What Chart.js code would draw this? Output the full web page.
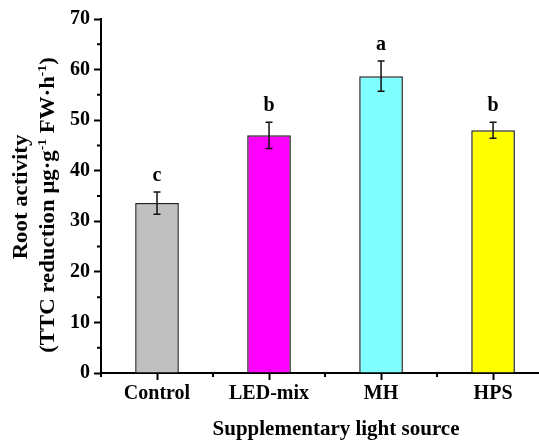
<!DOCTYPE html>
<html>
<head>
<meta charset="utf-8">
<script src="https://cdn.jsdelivr.net/npm/chart.js@4"></script>
<style>
  html, body { margin: 0; padding: 0; background: #fff; }
  #wrap { width: 539px; height: 441px; }
</style>
</head>
<body>
<div id="wrap"><canvas id="grafico" width="539" height="441"></canvas></div>
<script>
const categorias = ['Control', 'LED-mix', 'MH', 'HPS'];
const valores = [33.6, 47.0, 58.7, 48.0];
const erros = [2.2, 2.6, 3.0, 1.6];
const letras = ['c', 'b', 'a', 'b'];
const cores = ['#c0c0c0', '#ff00ff', '#80ffff', '#ffff00'];
const ticksY = [0, 10, 20, 30, 40, 50, 60, 70];
const menoresY = [5, 15, 25, 35, 45, 55, 65];
const menoresX = [-0.5, 0.5, 1.5, 2.5];

const familia = '"Liberation Serif", "Times New Roman", serif';
const fonte = 'bold 20px ' + familia;
const fonteTitX = 'bold 21px ' + familia;
const fonteTitY = 'bold 20px ' + familia;
const fonteSup = 'bold 12px ' + familia;
const esticar = 1.14; // o titulo do eixo y aparece esticado na figura original

// barras de erro, letras, ticks menores e titulos dos eixos
const extras = {
  id: 'extras',
  afterDatasetsDraw(chart) {
    const ctx = chart.ctx;
    const x = chart.scales.x, y = chart.scales.y;
    ctx.save();
    ctx.strokeStyle = '#111';
    ctx.lineWidth = 1.5;
    valores.forEach((v, i) => {
      const px = x.getPixelForValue(i);
      const top = y.getPixelForValue(v + erros[i]);
      const bot = y.getPixelForValue(v - erros[i]);
      ctx.beginPath();
      ctx.moveTo(px, top); ctx.lineTo(px, bot);
      ctx.moveTo(px - 3.5, top); ctx.lineTo(px + 3.5, top);
      ctx.moveTo(px - 3.5, bot); ctx.lineTo(px + 3.5, bot);
      ctx.stroke();
      ctx.fillStyle = '#000';
      ctx.font = fonte;
      ctx.textAlign = 'center';
      ctx.textBaseline = 'alphabetic';
      ctx.fillText(letras[i], px, top - 11);
    });
    ctx.restore();
  },
  afterDraw(chart) {
    const ctx = chart.ctx;
    const x = chart.scales.x, y = chart.scales.y;
    const area = chart.chartArea;
    ctx.save();
    ctx.strokeStyle = '#000';
    ctx.lineWidth = 2;
    ctx.beginPath();
    menoresY.forEach(v => {
      const py = y.getPixelForValue(v);
      ctx.moveTo(area.left, py); ctx.lineTo(area.left - 4, py);
    });
    menoresX.forEach(v => {
      const px = x.getPixelForValue(v);
      ctx.moveTo(px, area.bottom); ctx.lineTo(px, area.bottom + 4);
    });
    ctx.stroke();

    ctx.fillStyle = '#000';
    ctx.font = fonteTitX;
    ctx.textAlign = 'center';
    ctx.textBaseline = 'middle';
    ctx.fillText('Supplementary light source', 336, 430);

    // titulo do eixo y (rotacionado)
    ctx.save();
    ctx.font = fonteTitY;
    ctx.translate(22, 197);
    ctx.rotate(-Math.PI / 2);
    ctx.scale(esticar, 1);
    ctx.fillText('Root activity', 0, 0);
    ctx.restore();

    const partes = [
      ['(TTC reduction μg·g', false], ['-1', true], [' FW·h', false], ['-1', true], [')', false]
    ];
    let total = 0;
    partes.forEach(([t, sup]) => { ctx.font = sup ? fonteSup : fonteTitY; total += ctx.measureText(t).width; });
    ctx.save();
    ctx.translate(49, 205);
    ctx.rotate(-Math.PI / 2);
    ctx.scale(esticar, 1);
    ctx.textAlign = 'left';
    ctx.textBaseline = 'middle';
    let cx = -total / 2;
    partes.forEach(([t, sup]) => {
      ctx.font = sup ? fonteSup : fonteTitY;
      ctx.fillText(t, cx, sup ? -6 : 0);
      cx += ctx.measureText(t).width;
    });
    ctx.restore();
    ctx.restore();
  }
};

new Chart(document.getElementById('grafico'), {
  type: 'bar',
  data: {
    datasets: [{
      data: valores.map((v, i) => ({ x: i, y: v })),
      backgroundColor: cores,
      borderColor: '#222',
      borderWidth: 1.5,
      barPercentage: 0.39,
      categoryPercentage: 1.0
    }]
  },
  options: {
    responsive: false,
    animation: false,
    layout: { padding: { top: 19, right: 0, left: 0, bottom: 0 } },
    plugins: { legend: { display: false }, tooltip: { enabled: false } },
    scales: {
      x: {
        type: 'linear',
        offset: false,
        min: -0.5,
        max: 3.41,
        afterBuildTicks: s => { s.ticks = categorias.map((c, i) => ({ value: i })); },
        afterFit: s => { s.height = 68; },
        ticks: {
          autoSkip: false,
          maxRotation: 0,
          padding: 2,
          color: '#000',
          font: { family: familia, size: 20, weight: 'bold' },
          callback: v => categorias[v]
        },
        grid: { drawOnChartArea: false, offset: false, tickLength: 7, tickWidth: 2, color: '#000' },
        border: { display: true, color: '#000', width: 2 }
      },
      y: {
        min: 0,
        max: 70,
        afterBuildTicks: s => { s.ticks = ticksY.map(v => ({ value: v })); },
        afterFit: s => { s.width = 101; },
        ticks: {
          padding: 4,
          color: '#000',
          font: { family: familia, size: 20, weight: 'bold' }
        },
        grid: { drawOnChartArea: false, tickLength: 7, tickWidth: 2, color: '#000' },
        border: { display: true, color: '#000', width: 2 }
      }
    }
  },
  plugins: [extras]
});
</script>
</body>
</html>
